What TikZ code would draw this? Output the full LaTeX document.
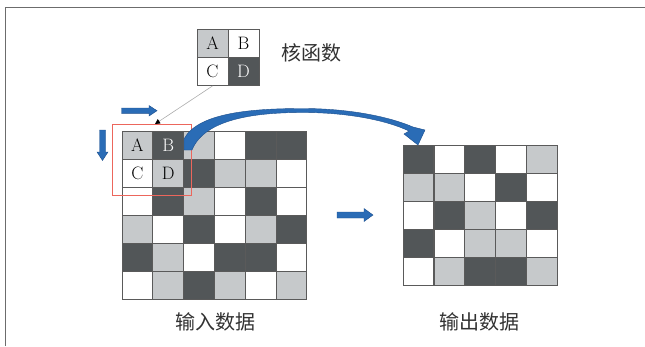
\documentclass[tikz,border=0pt]{standalone}
\usepackage{fontspec}
\newfontfamily\cjk{Noto Sans CJK SC}
\usetikzlibrary{arrows.meta}
\definecolor{dk}{RGB}{82,86,88}
\definecolor{lt}{RGB}{198,201,203}
\definecolor{gridc}{RGB}{90,90,90}
\definecolor{blu}{RGB}{42,108,182}
\definecolor{bluedge}{RGB}{28,78,140}
\definecolor{redb}{RGB}{236,102,92}
\definecolor{txt}{RGB}{50,50,50}
\begin{document}
\begin{tikzpicture}[x=1pt,y=-1pt,
  cellbox/.style={draw=gridc, line width=0.9pt, minimum width=30.8pt, minimum height=28pt, inner sep=0pt, font=\fontsize{18}{18}\selectfont},
  letter/.style={font=\fontsize{18}{18}\selectfont, inner sep=0pt},
  bluearrow/.style={fill=blu, draw=bluedge, line width=0.4pt},
  cjklabel/.style={font=\cjk\fontsize{20}{20}\selectfont, text=txt, inner sep=0pt}]
\useasboundingbox (0,0) rectangle (645,346);
% frame
\draw[gray!85!black, line width=1.4pt] (5.5,346) -- (5.5,7.5) -- (645,7.5);
% input grid
\foreach \row [count=\r from 0] in {{lt,dk,lt,white,dk,dk},{white,lt,dk,lt,lt,white},{white,dk,lt,white,dk,white},{lt,white,dk,white,lt,dk},{dk,lt,white,dk,dk,white},{white,lt,dk,lt,white,lt}}{
  \foreach \c [count=\k from 0] in \row {
    \node[cellbox, fill=\c] (in-\r-\k) at ({122+15.4+\k*30.8},{131+14+\r*28}) {};
  }
}
% output grid
\foreach \row [count=\r from 0] in {{dk,white,dk,white,lt},{lt,lt,white,dk,white},{white,dk,lt,white,dk},{dk,white,lt,lt,white},{white,lt,dk,dk,lt}}{
  \foreach \c [count=\k from 0] in \row {
    \node[cellbox, fill=\c] (out-\r-\k) at ({403+15.45+\k*30.9},{145+14+\r*28}) {};
  }
}
% letters in input
\node[letter] (iA) at (in-0-0) {A};
\node[letter, text=white] (iB) at (in-0-1) {B};
\node[letter] (iC) at (in-1-0) {C};
\node[letter] (iD) at (in-1-1) {D};
% kernel
\node[cellbox, fill=lt, minimum width=31pt] (kA) at (212.5,43.5) {A};
\node[cellbox, fill=white, minimum width=31pt] (kB) at (243.5,43.5) {B};
\node[cellbox, fill=white, minimum width=31pt] (kC) at (212.5,71.5) {C};
\node[cellbox, fill=dk, text=white, minimum width=31pt] (kD) at (243.5,71.5) {D};
\node[cjklabel] (kl) at (311,53) {核函数};
% sliding window
\node[draw=redb, line width=0.8pt, minimum width=79pt, minimum height=71pt, inner sep=0pt] (win) at (152.2,159.5) {};
\coordinate (wintop) at (155,124);
\draw[gray!65, line width=0.6pt, -{Triangle[length=5pt,width=5pt,color=black]}] (kC.south) -- (wintop);
% straight arrows
\filldraw[bluearrow] (121.5,108) -- (149,108) -- (149,105.5) -- (157,110.7) -- (149,116) -- (149,113.4) -- (121.5,113.4) -- cycle;
\filldraw[bluearrow] (99.5,130) -- (99.5,152) -- (97,152) -- (102.5,160.5) -- (108,152) -- (105.5,152) -- (105.5,130) -- cycle;
\filldraw[bluearrow] (337,212) -- (364,212) -- (364,208.5) -- (373,215) -- (364,221.5) -- (364,218) -- (337,218) -- cycle;
% curved arrow
\filldraw[bluearrow] (184,139) .. controls (198,112) and (255,108.5) .. (303,108.5)
  .. controls (350,108.5) and (390,117) .. (413,127)
  -- (425,130) -- (418,145) -- (404,134) -- (409,131)
  .. controls (388,121) and (350,112.5) .. (303,112.5)
  .. controls (258,112.5) and (205,118) .. (192,150) -- (184,150) -- cycle;
% labels
\node[cjklabel] (inl) at (215,322) {输入数据};
\node[cjklabel] (outl) at (479,322) {输出数据};
\end{tikzpicture}
\end{document}
